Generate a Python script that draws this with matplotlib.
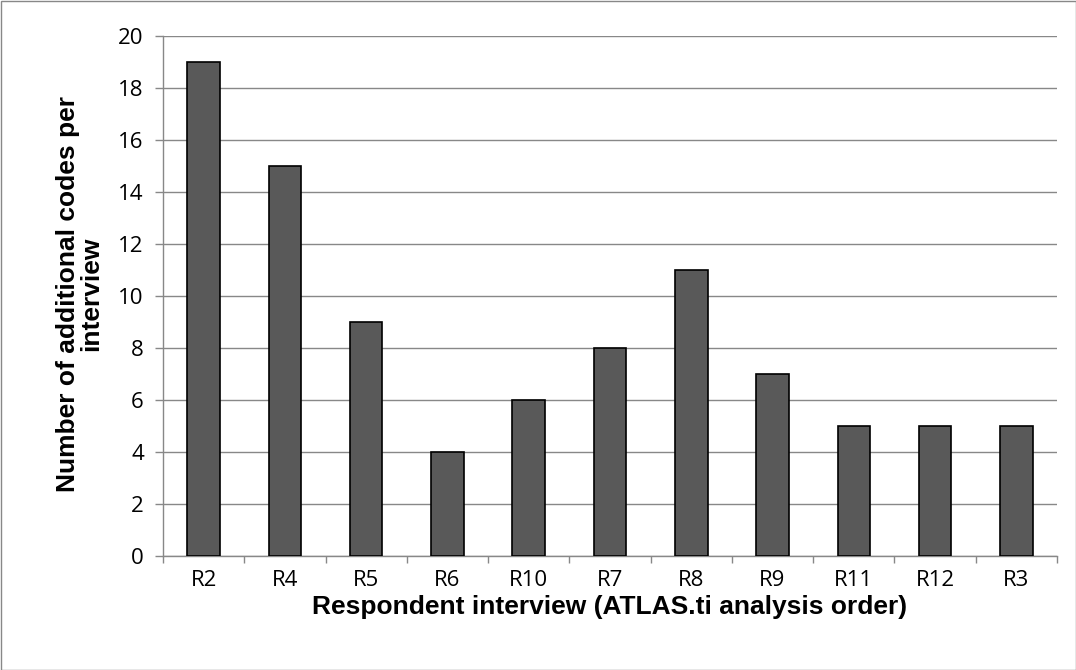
import matplotlib
matplotlib.use("Agg")
import matplotlib.pyplot as plt
from matplotlib.patches import Rectangle

categories = ["R2", "R4", "R5", "R6", "R10", "R7", "R8", "R9", "R11", "R12", "R3"]
values = [19, 15, 9, 4, 6, 8, 11, 7, 5, 5, 5]
yticks = [0, 2, 4, 6, 8, 10, 12, 14, 16, 18, 20]

fig = plt.figure(figsize=(10.76, 6.7), dpi=100)
ax = fig.add_axes([163/1076, 1-556/670, (1057-163)/1076, (556-36)/670])

x = list(range(len(categories)))
ax.bar(x, values, width=0.4, color="#595959", edgecolor="black", linewidth=1.2, zorder=3)
ax.set_xlim(-0.5, len(categories) - 0.5)
ax.set_ylim(0, 20)
ax.set_yticks(yticks)
ax.set_yticklabels([str(v) for v in yticks], fontfamily="Open Sans", fontsize=16)
ax.set_xticks(x)
ax.set_xticklabels(categories, fontfamily="Open Sans", fontsize=16)
ax.tick_params(axis="x", length=0, pad=10)
ax.tick_params(axis="y", length=5.8, color="#888888", pad=8, width=1)
# category boundary ticks
ax.set_xticks([i - 0.5 for i in range(len(categories) + 1)], minor=True)
ax.tick_params(axis="x", which="minor", length=5, color="#888888", width=1)
ax.grid(axis="y", color="#888888", linewidth=1, zorder=0)
for s in ["top", "right"]:
    ax.spines[s].set_visible(False)
for s in ["left", "bottom"]:
    ax.spines[s].set_color("#888888")
    ax.spines[s].set_linewidth(1)

ax.set_xlabel("Respondent interview (ATLAS.ti analysis order)", fontfamily="Liberation Sans",
              fontweight="bold", fontsize=19)
ax.set_ylabel("Number of additional codes per\ninterview", fontfamily="Liberation Sans",
              fontweight="bold", fontsize=19, linespacing=0.95)
ax.xaxis.set_label_coords(0.5, (556 - 595) / 520)
ax.yaxis.set_label_coords((103 - 163) / 894, (556 - 294) / 520)

fig.patches.append(Rectangle((0.5/1076, 0.5/670), 1-1/1076, 1-1/670, transform=fig.transFigure,
                             fill=False, edgecolor="#888888", linewidth=1))
fig.savefig("out.png", dpi=100)
